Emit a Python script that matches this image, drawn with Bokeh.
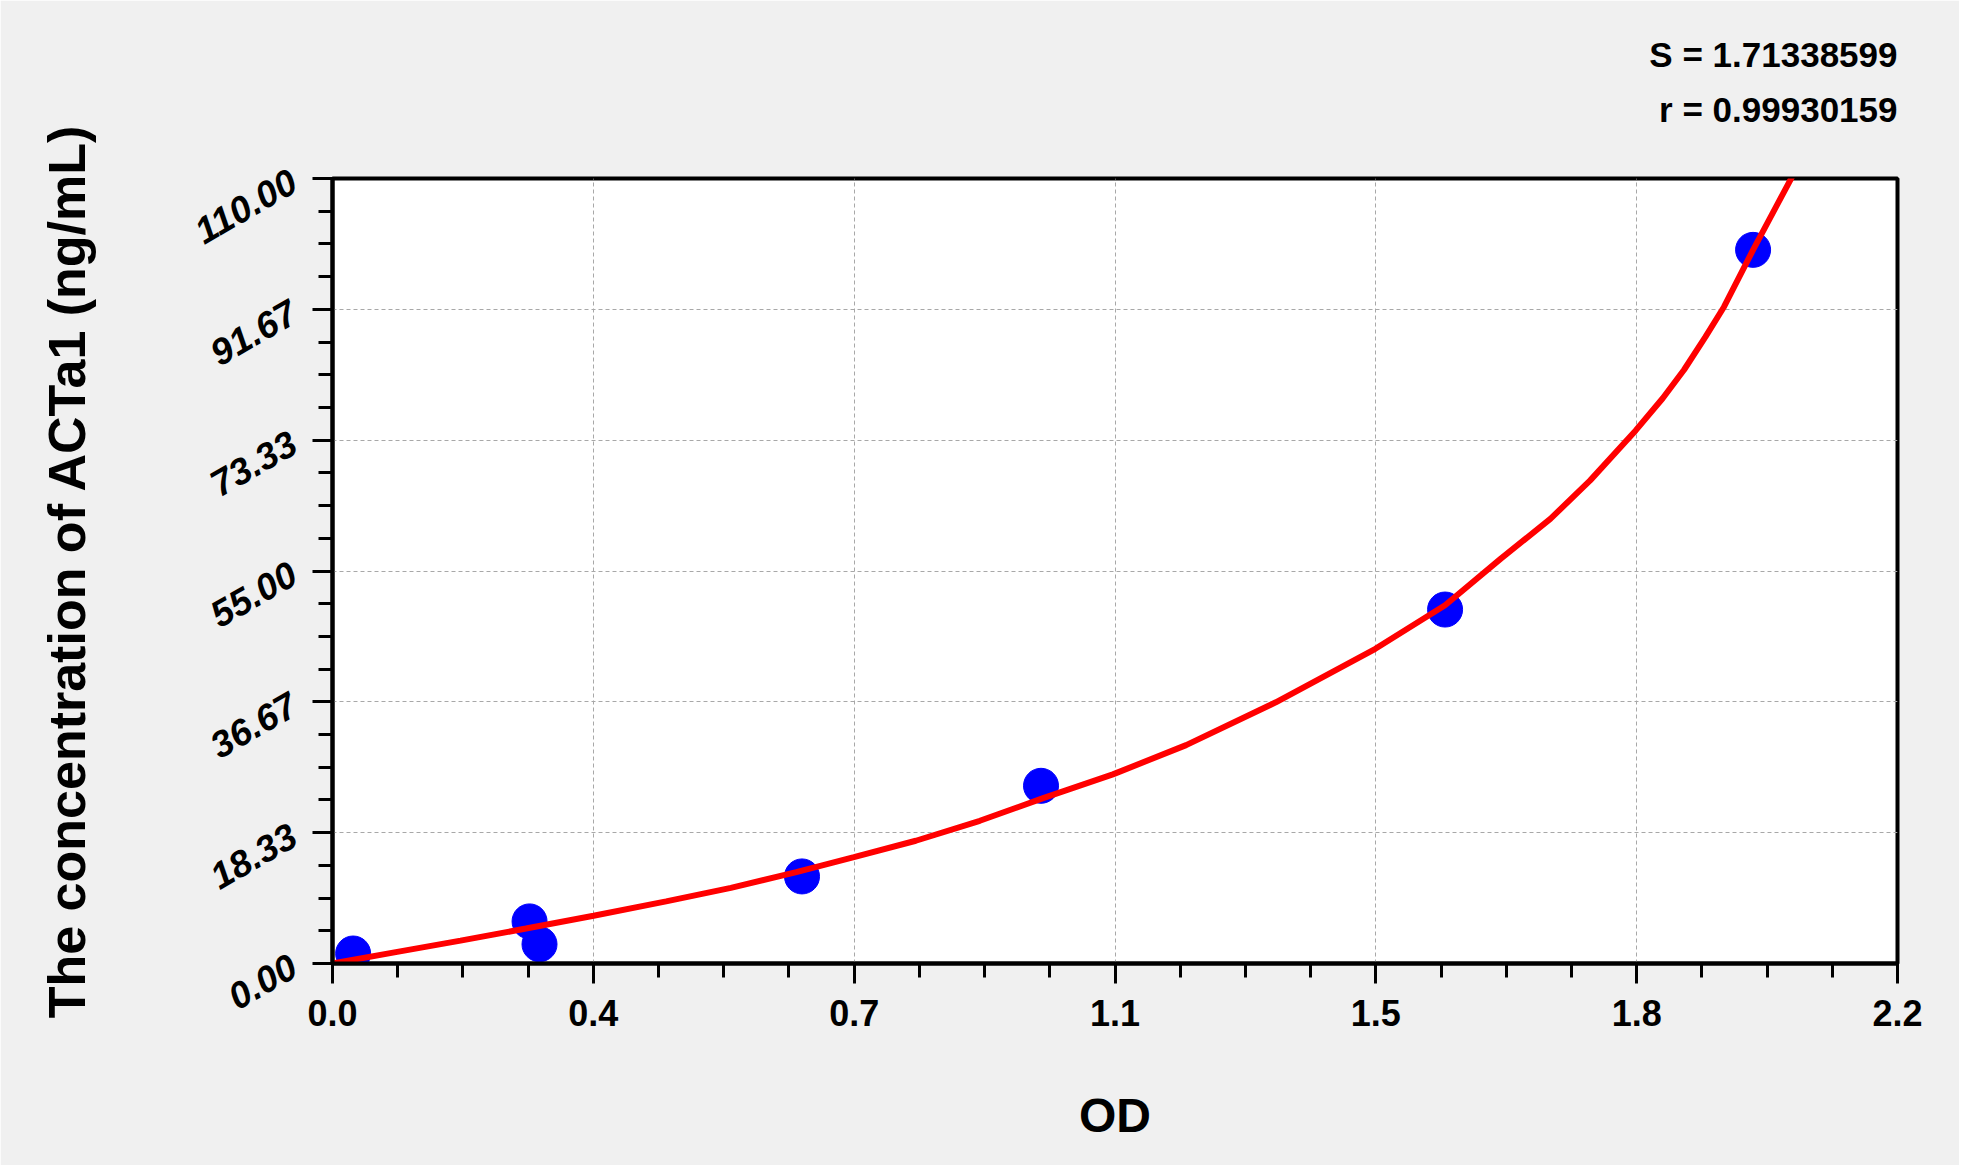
import math
from bokeh.plotting import figure
from bokeh.models import Range1d, FixedTicker, PrintfTickFormatter, Title
from bokeh.embed import file_html
from bokeh.resources import INLINE

# ---- data ----
od = [0.029, 0.277, 0.291, 0.660, 0.996, 1.564, 1.997]
conc = [1.4, 5.9, 2.7, 12.2, 24.9, 49.6, 100.0]

curve_od = [0.0, 0.089, 0.18, 0.272, 0.367, 0.469, 0.56, 0.652, 0.733, 0.82,
            0.91, 1.0, 1.097, 1.2, 1.326, 1.466, 1.564, 1.642, 1.712, 1.768,
            1.832, 1.87, 1.9, 1.93, 1.956, 1.997, 2.054]
curve_conc = [0.0, 1.6, 3.2, 4.9, 6.7, 8.7, 10.6, 12.8, 14.9, 17.2,
              20.0, 23.2, 26.5, 30.6, 36.6, 44.1, 50.2, 56.7, 62.3, 67.7,
              74.7, 79.2, 83.2, 87.8, 92.0, 100.0, 110.65]

x_ticks = [0.0, 0.366667, 0.733333, 1.1, 1.466667, 1.833333, 2.2]
y_ticks = [0.0, 18.333333, 36.666667, 55.0, 73.333333, 91.666667, 110.0]
stat_S = "S = 1.71338599"
stat_r = "r = 0.99930159"
x_label = "OD"
y_label = "The concentration of ACTa1 (ng/mL)"

FONT = "Liberation Sans"

x_minor = [a + (b - a) * k / 4 for a, b in zip(x_ticks[:-1], x_ticks[1:]) for k in (1, 2, 3)]
y_minor = [a + (b - a) * k / 4 for a, b in zip(y_ticks[:-1], y_ticks[1:]) for k in (1, 2, 3)]

p = figure(frame_width=1565, frame_height=785,
           x_range=Range1d(0, 2.2), y_range=Range1d(0, 110),
           output_backend="svg", toolbar_location=None,
           min_border_left=332, min_border_right=62,
           min_border_top=178, min_border_bottom=202,
           background_fill_color="white", border_fill_color="#f0f0f0",
           outline_line_color="black", outline_line_width=4)

p.xaxis.ticker = FixedTicker(ticks=x_ticks, minor_ticks=x_minor)
p.yaxis.ticker = FixedTicker(ticks=y_ticks, minor_ticks=y_minor)
p.xaxis.formatter = PrintfTickFormatter(format="%.1f")
p.yaxis.formatter = PrintfTickFormatter(format="%.2f")

for ax in (p.xaxis[0], p.yaxis[0]):
    ax.axis_line_width = 4
    ax.axis_line_color = "black"
    ax.major_tick_line_width = 3
    ax.minor_tick_line_width = 3
    ax.major_tick_in = 0
    ax.minor_tick_in = 0
    ax.major_tick_out = 20
    ax.minor_tick_out = 14
    ax.major_label_text_font = FONT
    ax.major_label_text_color = "black"
    ax.axis_label_text_font = FONT
    ax.axis_label_text_font_style = "bold"
    ax.axis_label_text_color = "black"

p.xaxis.major_label_text_font_size = "36px"
p.xaxis.major_label_text_font_style = "bold"
p.xaxis.major_label_standoff = 16
p.xaxis.axis_label = x_label
p.xaxis.axis_label_text_font_size = "48px"
p.xaxis.axis_label_standoff = 60

p.yaxis.major_label_text_font_size = "37px"
p.yaxis.major_label_text_font_style = "bold italic"
p.yaxis.major_label_orientation = math.pi / 6
p.yaxis.major_label_standoff = 19
p.yaxis.axis_label = y_label
p.yaxis.axis_label_text_font_size = "52px"
p.yaxis.axis_label_standoff = 86

for g in (p.xgrid[0], p.ygrid[0]):
    g.grid_line_color = "#a8a8a8"
    g.grid_line_width = 1
    g.grid_line_dash = "4 3"

p.scatter(od, conc, size=35, marker="circle", fill_color="#0000ff", line_color="#0000ff")
p.line(curve_od, curve_conc, line_color="#ff0000", line_width=6)

t_r = Title(text=stat_r, align="right", text_font=FONT, text_font_size="35px",
            text_font_style="bold", text_color="black", standoff=100)
t_s = Title(text=stat_S, align="right", text_font=FONT, text_font_size="35px",
            text_font_style="bold", text_color="black", standoff=-72)
p.add_layout(t_r, "above")
p.add_layout(t_s, "above")

open("out.html", "w").write(file_html(p, INLINE))
